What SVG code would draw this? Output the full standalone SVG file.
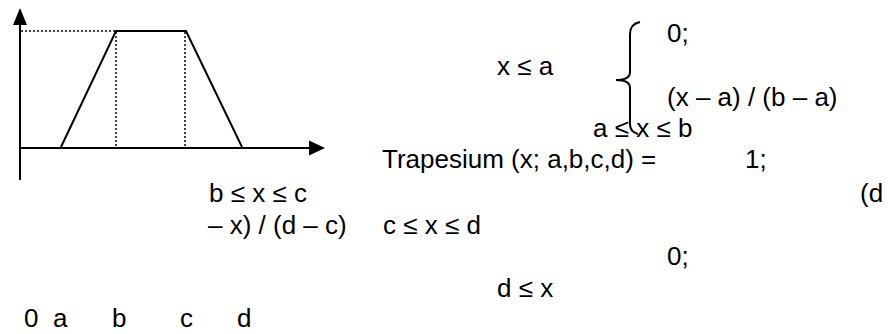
<svg xmlns="http://www.w3.org/2000/svg" width="888" height="334" viewBox="0 0 888 334">
<style>
  .t { font-family: "Liberation Sans", Arial, sans-serif; font-size: 26px; fill: #000; }
  .ln { stroke: #000; stroke-width: 2; fill: none; }
  .dot { stroke: #000; stroke-width: 1.5; stroke-dasharray: 2 2; fill: none; }
</style>
<rect width="888" height="334" fill="#fff"/>
<g id="chart">
  <line class="ln" x1="20" y1="22" x2="20" y2="180"/>
  <polygon points="20,8 13,25 27,25" fill="#000"/>
  <line class="ln" x1="20" y1="148" x2="310" y2="148"/>
  <polygon points="325,148 309,140.5 309,155.5" fill="#000"/>
  <polyline class="ln" points="61,147 116,31 186,31 242,147"/>
  <line class="dot" x1="21" y1="31" x2="116" y2="31"/>
  <line class="dot" x1="116" y1="32" x2="116" y2="147"/>
  <line class="dot" x1="185" y1="32" x2="185" y2="147"/>
</g>
<g id="brace">
  <path class="ln" stroke-width="1.5" d="M640,22 Q630,24 630,34 L630,72 Q630,80 616,80 Q630,80 630,88 L630,124 Q630,132 638,134"/>
</g>
<g id="formula">
  <text class="t" x="667" y="42">0;</text>
  <text class="t" x="497" y="75">x ≤ a</text>
  <text class="t" x="667" y="106">(x – a) / (b – a)</text>
  <text class="t" x="593" y="137">a ≤ x ≤ b</text>
  <text class="t" x="382" y="168">Trapesium (x; a,b,c,d) =</text>
  <text class="t" x="745" y="168">1;</text>
  <text class="t" x="209" y="202">b ≤ x ≤ c</text>
  <text class="t" x="860" y="202">(d</text>
  <text class="t" x="208" y="234">– x) / (d – c)</text>
  <text class="t" x="383" y="234">c ≤ x ≤ d</text>
  <text class="t" x="667" y="265">0;</text>
  <text class="t" x="497" y="297">d ≤ x</text>
</g>
<g id="axis-labels">
  <text class="t" y="327"><tspan x="24">0</tspan><tspan x="53">a</tspan><tspan x="112">b</tspan><tspan x="180">c</tspan><tspan x="237">d</tspan></text>
</g>
</svg>
